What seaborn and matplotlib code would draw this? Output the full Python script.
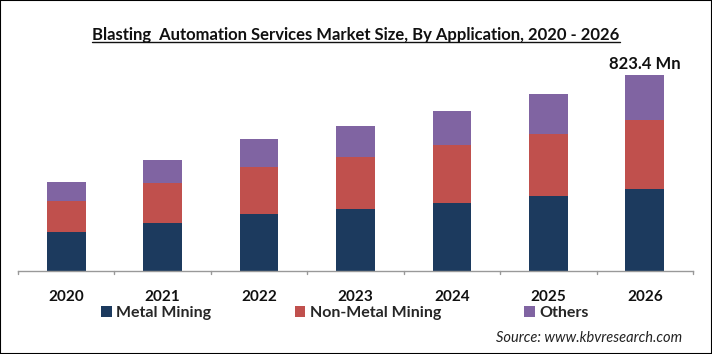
import matplotlib
matplotlib.use("Agg")
import matplotlib.pyplot as plt
import seaborn as sns
import numpy as np
import pandas as pd
from matplotlib.patches import Patch
from matplotlib.lines import Line2D

years = ["2020", "2021", "2022", "2023", "2024", "2025", "2026"]
metal_mining = [163.8, 202.9, 239.5, 260.5, 285.7, 315.1, 344.5]
non_metal_mining = [131.5, 165.5, 197.4, 218.5, 242.4, 261.7, 289.9]
others = [78.6, 97.9, 117.6, 130.2, 144.1, 166.8, 189.0]
series_names = ["Metal Mining", "Non-Metal Mining", "Others"]
colors = ["#1c3a5e", "#c0504d", "#8064a2"]
title = "Blasting  Automation Services Market Size, By Application, 2020 - 2026"
annotation = "823.4 Mn"
source = "Source: www.kbvresearch.com"

sns.set_theme(style="white")
FONT = ["Lato", "DejaVu Sans"]
plt.rcParams["font.family"] = FONT

df = pd.DataFrame({"year": years, "m": metal_mining, "n": non_metal_mining, "o": others})
df["c1"] = df["m"]
df["c2"] = df["m"] + df["n"]
df["c3"] = df["m"] + df["n"] + df["o"]

fig = plt.figure(figsize=(7.12, 3.54), dpi=100)
W, H = 712, 354
base_px, top_px = 271, 57
ax = fig.add_axes([18 / W, 1 - base_px / H, (693 - 18) / W, (base_px - top_px) / H])

for col, c in zip(["c3", "c2", "c1"], colors[::-1]):
    sns.barplot(data=df, x="year", y=col, color=c, width=0.4, ax=ax,
                saturation=1, edgecolor="none", linewidth=0)

ax.set_ylim(0, 900)
ax.set_xlim(-0.5, len(years) - 0.5)
ax.set_xlabel("")
ax.set_ylabel("")
ax.set_yticks([])
for s in ["left", "top", "right"]:
    ax.spines[s].set_visible(False)
ax.spines["bottom"].set_color("#999999")
ax.spines["bottom"].set_linewidth(1.0)
ax.set_xticks(np.arange(len(years)))
ax.set_xticklabels(years, fontsize=11, fontweight="bold", color="#111111")
ax.tick_params(axis="x", length=0, pad=14)
for b in np.arange(len(years) + 1) - 0.5:
    ax.plot([b, b], [0, -12], color="#999999", lw=1.0, clip_on=False)

ax.text(len(years) - 1, df["c3"].iloc[-1] + 12, annotation, ha="center", va="bottom",
        fontsize=12, fontweight="bold", color="#111111")

t = fig.text(356 / W, 1 - 35 / H, title, ha="center", va="center", fontsize=12,
             fontweight="bold", color="#111111")
fig.canvas.draw()
bb = t.get_window_extent().transformed(fig.transFigure.inverted())
fig.add_artist(Line2D([bb.x0, bb.x1], [bb.y0 + 0.003, bb.y0 + 0.003], transform=fig.transFigure,
                      color="#111111", lw=1.0))

handles = [Patch(facecolor=c, edgecolor="none") for c in colors]
fig.legend(handles, series_names, loc="center", bbox_to_anchor=(345 / W, 1 - 313 / H), ncol=3,
           frameon=False, handlelength=0.65, handleheight=0.65,
           handletextpad=0.3, columnspacing=5.2, prop={"size": 11.5, "weight": "bold"})

fig.text(682 / W, 1 - 338 / H, source, ha="right", va="center", fontsize=10.5,
         style="italic", color="#222222")

fig.add_artist(plt.Rectangle((0, 0), 1, 1, transform=fig.transFigure, fill=False,
                             edgecolor="#000000", lw=1.5))

fig.savefig("out.png", dpi=100)
